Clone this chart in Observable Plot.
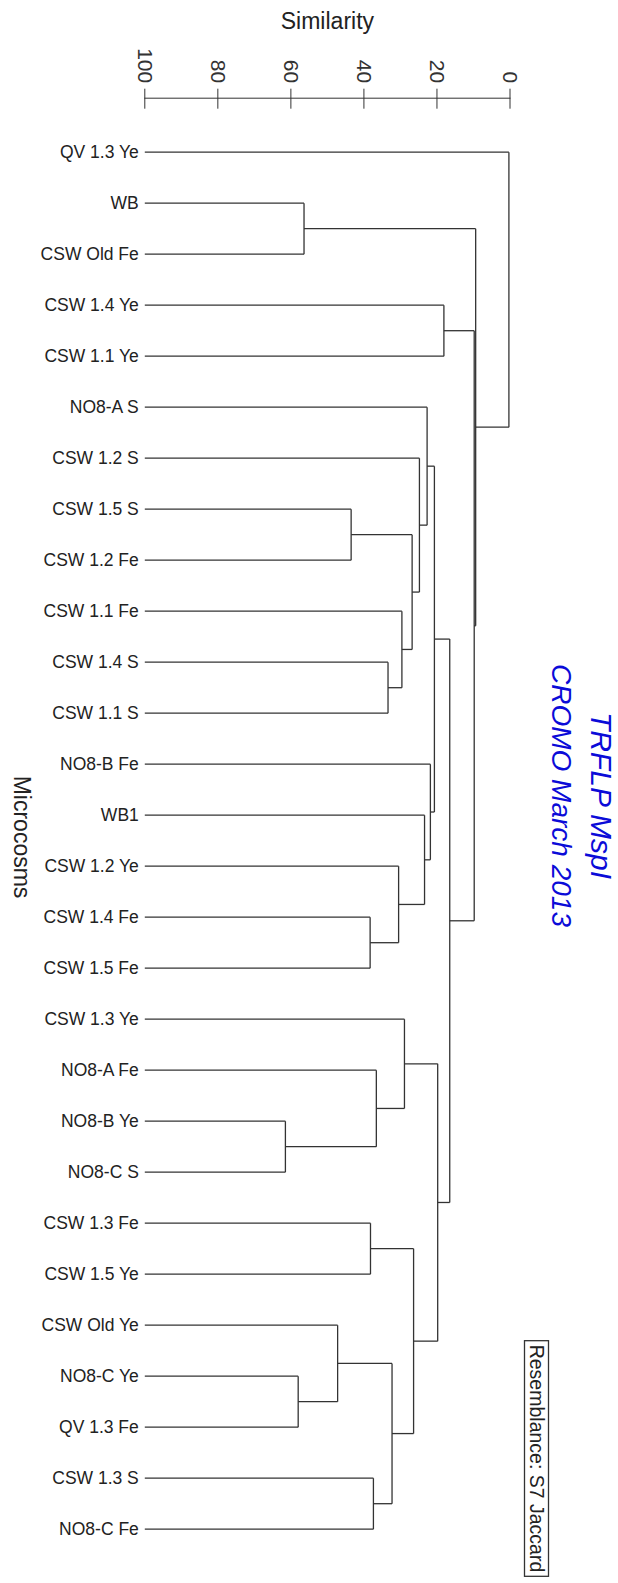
<!DOCTYPE html>
<html><head><meta charset="utf-8">
<script src="https://cdn.jsdelivr.net/npm/d3@7"></script>
<script src="https://cdn.jsdelivr.net/npm/@observablehq/plot@0.6"></script>
<style>body{margin:0;background:#fff}</style>
</head><body><div id="chart"></div>
<script>
// Leaves, top to bottom
const leaves = ["QV 1.3 Ye","WB","CSW Old Fe","CSW 1.4 Ye","CSW 1.1 Ye","NO8-A S","CSW 1.2 S","CSW 1.5 S","CSW 1.2 Fe","CSW 1.1 Fe","CSW 1.4 S","CSW 1.1 S","NO8-B Fe","WB1","CSW 1.2 Ye","CSW 1.4 Fe","CSW 1.5 Fe","CSW 1.3 Ye","NO8-A Fe","NO8-B Ye","NO8-C S","CSW 1.3 Fe","CSW 1.5 Ye","CSW Old Ye","NO8-C Ye","QV 1.3 Fe","CSW 1.3 S","NO8-C Fe"];
// Merge steps (hclust convention: negative = leaf number, positive = earlier merge step)
const mergeLeft  = [-20,-25,-2,-24,-8,-16,-22,-27,-19,-11, 4,-15,-10,-18, 5, 7,-7,-14,-6,-13,19,14,-4,21,23, 3,-1];
const mergeRight = [-21,-26,-3,  2,-9,-17,-23,-28,  1,-12, 8,  6, 10,  9,13,11,15, 12,17, 18,20,16,-5,22,24,25,26];
const mergeSimilarity = [61.5,58.0,56.4,47.2,43.5,38.3,38.2,37.4,36.6,33.4,32.3,30.5,29.6,28.9,26.8,26.4,24.8,23.4,22.7,21.8,20.7,19.8,18.1,16.5,9.8,9.4,0.3];
const similarityTicks = [100,80,60,40,20,0];
const axisTitle = "Similarity";
const groupTitle = "Microcosms";
const titleLine1 = "TRFLP MspI";
const titleLine2 = "CROMO March 2013";
const resemblanceNote = "Resemblance: S7 Jaccard";

// Build dendrogram segments from the merge table
const nodes = [];
const ref = k => k < 0 ? {x: 100, y: -k - 1} : nodes[k - 1];
const segs = [];
mergeSimilarity.forEach((s, i) => {
  const a = ref(mergeLeft[i]), b = ref(mergeRight[i]);
  segs.push({x1: a.x, y1: a.y, x2: s, y2: a.y});
  segs.push({x1: b.x, y1: b.y, x2: s, y2: b.y});
  segs.push({x1: s, y1: a.y, x2: s, y2: b.y});
  nodes.push({x: s, y: (a.y + b.y) / 2});
});

const ink = "#333";
const blue = "#0b0bd8";
const chart = Plot.plot({
  width: 618, height: 1583,
  marginLeft: 144.3, marginRight: 108.5, marginTop: 107.7, marginBottom: 54.3,
  style: {fontFamily: "'Liberation Sans', Arial, sans-serif", color: ink, background: "#fff"},
  x: {domain: [100, 0]},
  y: {domain: [0, leaves.length - 1], reverse: true, insetTop: 44, axis: null},
  marks: [
    Plot.frame({anchor: "top", dy: -10, stroke: ink}),
    Plot.axisX(similarityTicks, {anchor: "top", tickSize: 20, tickPadding: 5, tickRotate: 90, fontSize: 21, label: null, stroke: ink}),
    Plot.link(segs, {x1: "x1", y1: "y1", x2: "x2", y2: "y2", stroke: ink, strokeWidth: 1.3}),
    Plot.text(leaves, {x: () => 100, y: (d, i) => i, text: d => d, textAnchor: "end", dx: -6, fontSize: 17.5, fill: "#222"}),
    Plot.text([axisTitle], {frameAnchor: "top", text: d => d, textAnchor: "middle", lineAnchor: "top", dy: -96, fontSize: 23, fill: "#222"}),
    Plot.text([groupTitle], {frameAnchor: "left", text: d => d, rotate: 90, textAnchor: "middle", lineAnchor: "bottom", dx: -130.5, dy: 18.3, fontSize: 23, fill: "#222"}),
    Plot.text([titleLine1], {frameAnchor: "right", text: d => d, rotate: 90, textAnchor: "middle", lineAnchor: "bottom", dx: 80.5, dy: -23.2, fontSize: 30, fontStyle: "italic", fill: blue}),
    Plot.text([titleLine2], {frameAnchor: "right", text: d => d, rotate: 90, textAnchor: "middle", lineAnchor: "bottom", dx: 42.2, dy: -23.2, fontSize: 28, fontStyle: "italic", fill: blue}),
    Plot.text([resemblanceNote], {frameAnchor: "bottom-right", text: d => d, rotate: 90, textAnchor: "middle", lineAnchor: "bottom", dx: 19.5, dy: -70.7, fontSize: 19.5, fill: "#222"})
  ]
});
document.getElementById("chart").appendChild(chart);

// Box around the resemblance note
const noteEl = Array.from(chart.querySelectorAll("text")).find(t => t.textContent === resemblanceNote);
if (noteEl) {
  const r = noteEl.getBoundingClientRect();
  const s = chart.getBoundingClientRect();
  const rect = document.createElementNS("http://www.w3.org/2000/svg", "rect");
  rect.setAttribute("x", r.left - s.left - 1);
  rect.setAttribute("y", r.top - s.top - 4);
  rect.setAttribute("width", r.width + 2);
  rect.setAttribute("height", r.height + 8);
  rect.setAttribute("fill", "none");
  rect.setAttribute("stroke", ink);
  rect.setAttribute("stroke-width", 1.3);
  chart.appendChild(rect);
}
</script>
</body></html>
